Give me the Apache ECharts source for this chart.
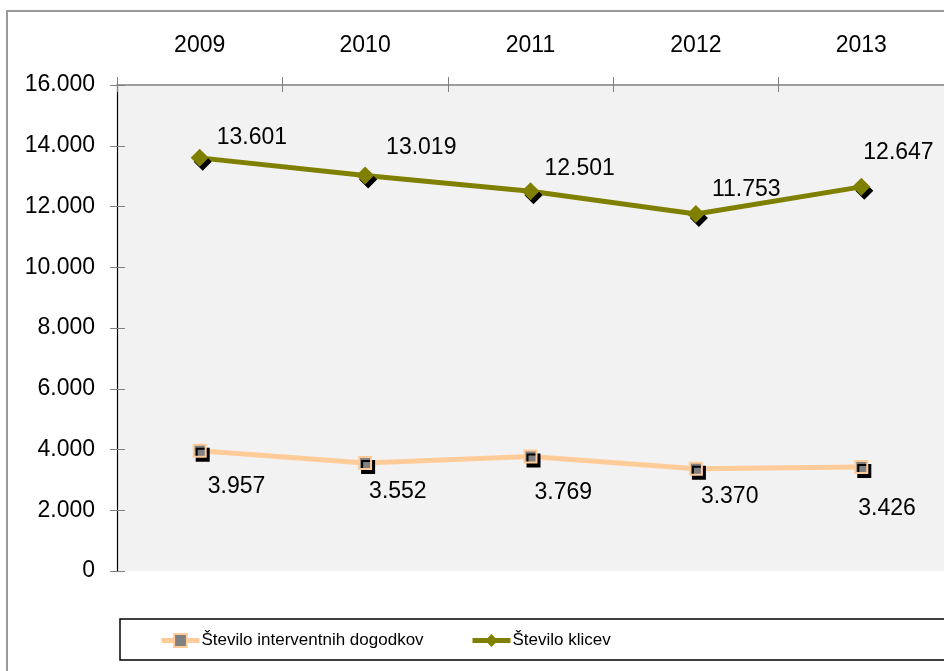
<!DOCTYPE html>
<html>
<head>
<meta charset="utf-8">
<script src="https://cdn.jsdelivr.net/npm/echarts@6.0.0/dist/echarts.min.js"></script>
<style>
  html, body { margin: 0; padding: 0; background: #fff; }
  #chart { width: 944px; height: 671px; }
</style>
</head>
<body>
<div id="chart"></div>
<script>
const years = ['2009', '2010', '2011', '2012', '2013']
const intervencije = [3957, 3552, 3769, 3370, 3426]
const klici = [13601, 13019, 12501, 11753, 12647]
const yTicks = [0, 2000, 4000, 6000, 8000, 10000, 12000, 14000, 16000]

// label placement (pixels from the point centre)
const klicOffsets = [[17, -20], [21, -28], [14, -23], [16, -24], [2, -34]]
const intervOffsets = [[8, 36], [4, 29], [4, 36], [5, 28], [-3, 42]]

const fmt = (v) => (v === 0 ? '0' : v.toLocaleString('de-DE'))
const font = 'Liberation Sans, Arial, sans-serif'

const chart = echarts.init(document.getElementById('chart'))

const withLabels = (values, offsets) =>
  values.map((v, i) => ({
    value: v,
    label: { offset: offsets[i] },
  }))

const gridBox = { left: 117, right: -3, top: 85, bottom: 100 }

const legendBase = {
  top: 632,
  padding: 0,
  itemWidth: 38,
  itemHeight: 16,
  itemGap: 0,
  lineStyle: { width: 5 },
  textStyle: { fontFamily: font, fontSize: 17, color: '#000', padding: [0, 0, 0, -3] },
  z: 5,
}

const option = {
  animation: false,
  backgroundColor: '#fff',
  grid: [
    { ...gridBox, show: true, backgroundColor: '#f2f2f2', borderWidth: 0 },
    // second grid only carries the inner half of the crossing ticks
    { ...gridBox, show: false },
  ],
  graphic: [
    {
      type: 'rect',
      shape: { x: 7, y: 11, width: 960, height: 700 },
      style: { fill: 'none', stroke: '#999', lineWidth: 2 },
      z: -1,
    },
    {
      type: 'rect',
      shape: { x: 120, y: 619, width: 840, height: 41 },
      style: { fill: '#fff', stroke: '#000', lineWidth: 1.5 },
      z: 0,
    },
  ],
  legend: [
    { ...legendBase, data: ['Število interventnih dogodkov'], left: 159 },
    { ...legendBase, data: ['Število klicev'], left: 470 },
  ],
  xAxis: [
    {
      type: 'category',
      gridIndex: 0,
      position: 'top',
      data: years,
      axisLine: { onZero: false, lineStyle: { color: '#808080', width: 1.5 } },
      axisTick: { show: true, length: 8, lineStyle: { color: '#808080' } },
      axisLabel: { margin: 28, fontFamily: font, fontSize: 23, color: '#000' },
      splitLine: { show: false },
    },
    {
      type: 'category',
      gridIndex: 1,
      position: 'top',
      data: years,
      axisLine: { show: false, onZero: false },
      axisTick: { show: true, inside: true, length: 7, lineStyle: { color: '#808080' } },
      axisLabel: { show: false },
      splitLine: { show: false },
    },
  ],
  yAxis: [
    {
      type: 'value',
      gridIndex: 0,
      min: 0,
      max: 16000,
      interval: 2000,
      axisLine: { show: true, lineStyle: { color: '#000', width: 1.2 } },
      axisTick: { show: true, length: 7, lineStyle: { color: '#808080' } },
      axisLabel: {
        margin: 22,
        fontFamily: font,
        fontSize: 23,
        color: '#000',
        formatter: (v) => (yTicks.includes(v) ? fmt(v) : ''),
      },
      splitLine: { show: false },
    },
    {
      type: 'value',
      gridIndex: 1,
      position: 'left',
      min: 0,
      max: 16000,
      interval: 2000,
      axisLine: { show: false },
      axisTick: { show: true, inside: true, length: 8, lineStyle: { color: '#808080' } },
      axisLabel: { show: false },
      splitLine: { show: false },
    },
  ],
  series: [
    {
      name: 'Število interventnih dogodkov',
      type: 'line',
      data: withLabels(intervencije, intervOffsets),
      symbol: 'rect',
      symbolSize: 12,
      lineStyle: { color: '#ffcc99', width: 5 },
      itemStyle: {
        color: '#808080',
        borderColor: '#ffcc99',
        borderWidth: 2,
        shadowColor: '#000',
        shadowOffsetX: 3,
        shadowOffsetY: 4,
        shadowBlur: 0,
      },
      label: {
        show: true,
        position: 'inside',
        align: 'left',
        verticalAlign: 'middle',
        fontFamily: font,
        fontSize: 23,
        color: '#000',
        formatter: (p) => fmt(p.value),
      },
      z: 3,
    },
    {
      name: 'Število klicev',
      type: 'line',
      data: withLabels(klici, klicOffsets),
      symbol: 'diamond',
      symbolSize: 18,
      lineStyle: { color: '#808000', width: 5 },
      itemStyle: {
        color: '#808000',
        shadowColor: '#000',
        shadowOffsetX: 3,
        shadowOffsetY: 4,
        shadowBlur: 0,
      },
      label: {
        show: true,
        position: 'inside',
        align: 'left',
        verticalAlign: 'middle',
        fontFamily: font,
        fontSize: 23,
        color: '#000',
        formatter: (p) => fmt(p.value),
      },
      z: 3,
    },
  ],
}

chart.setOption(option)
</script>
</body>
</html>
